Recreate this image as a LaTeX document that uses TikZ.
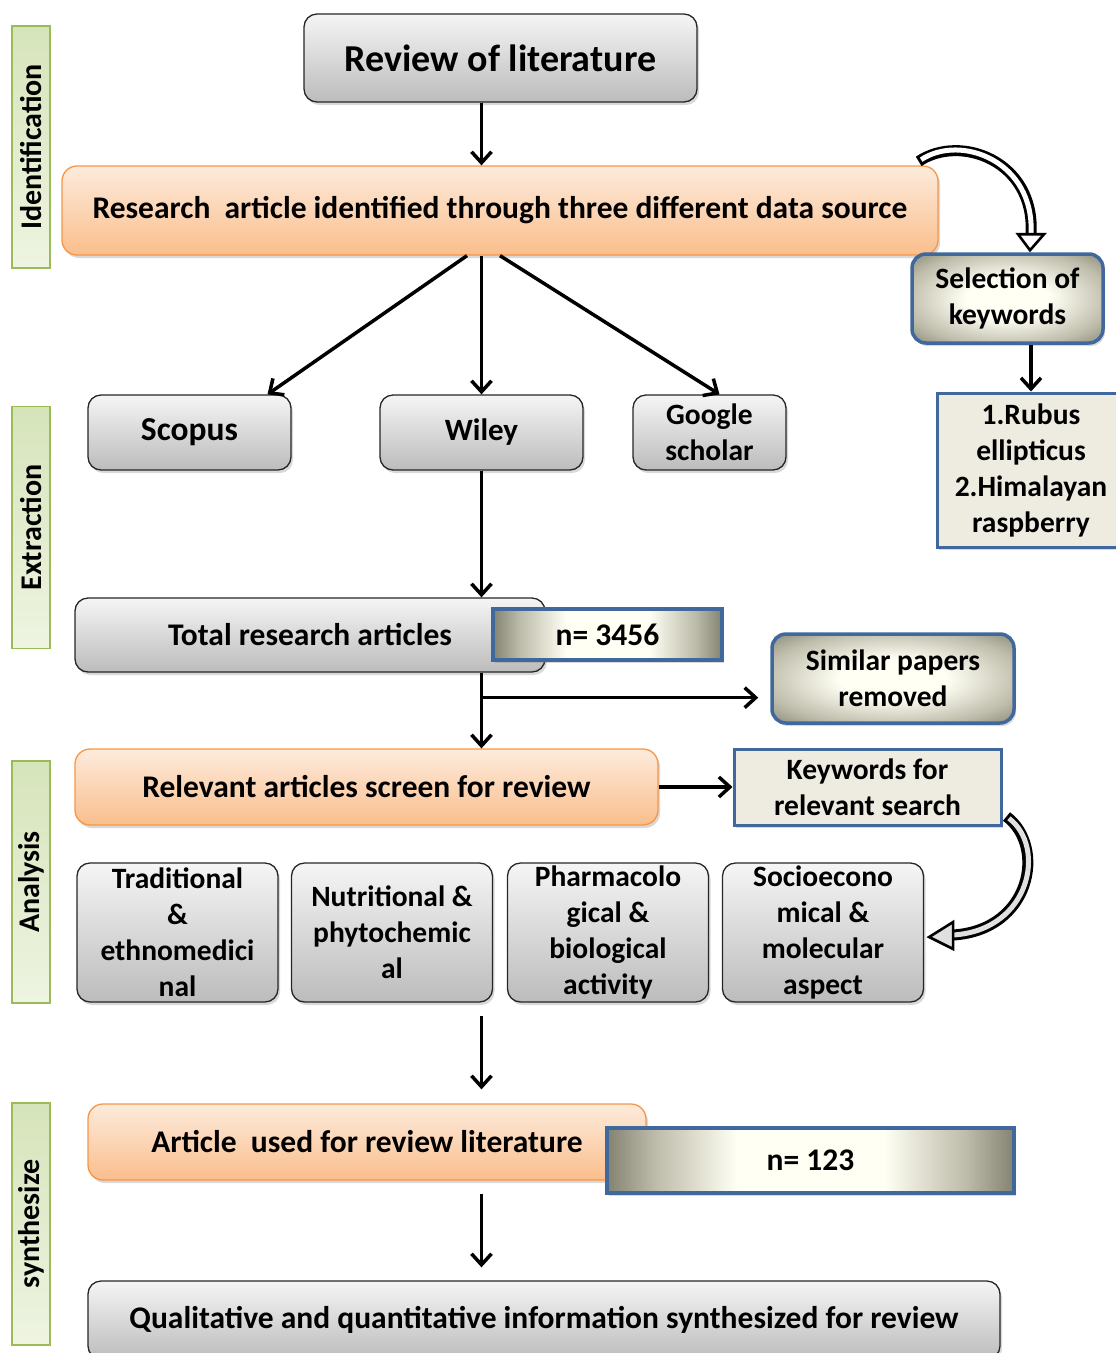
\documentclass[tikz,border=0pt]{standalone}
\usepackage{fontspec}
\setmainfont{Carlito}
\usetikzlibrary{arrows.meta,shadows,calc}
\definecolor{grayT}{RGB}{245,245,245}
\definecolor{grayB}{RGB}{188,188,188}
\definecolor{orT}{RGB}{253,235,220}
\definecolor{orB}{RGB}{250,190,140}
\definecolor{orD}{RGB}{247,150,70}
\definecolor{blueD}{RGB}{65,104,156}
\definecolor{olv}{RGB}{132,130,112}
\definecolor{olvM}{RGB}{190,188,170}
\definecolor{crm}{RGB}{255,255,244}
\definecolor{beige}{RGB}{238,236,225}
\definecolor{grnD}{RGB}{155,187,89}
\definecolor{grnL}{RGB}{238,244,225}
\definecolor{grnM}{RGB}{214,228,186}
\pgfdeclareradialshading{myrad}{\pgfpoint{0bp}{0bp}}{color(0bp)=(crm); color(11bp)=(crm); color(27bp)=(olvM); color(37bp)=(olv); color(50bp)=(olv)}
\pgfdeclarehorizontalshading{myhor}{100bp}{color(0bp)=(olv); color(25bp)=(olv); color(31bp)=(olvM); color(41bp)=(crm); color(59bp)=(crm); color(69bp)=(olvM); color(75bp)=(olv); color(100bp)=(olv)}
\begin{document}
\begin{tikzpicture}[x=1pt,y=-1pt,
  every node/.style={font=\fontsize{29.5}{36}\selectfont\bfseries, align=center, inner sep=0pt},
  big/.style={font=\fontsize{31.5}{36}\selectfont\bfseries},
  shad/.style={drop shadow={shadow xshift=2pt,shadow yshift=-3pt,opacity=0.3}},
  graybox/.style={shad, draw=black!85, line width=1.3pt, rounded corners=13pt, top color=grayT, bottom color=grayB},
  orbox/.style={shad, draw=orD, line width=1.3pt, rounded corners=15pt, top color=orT, bottom color=orB},
  radbox/.style={shad, draw=blueD, line width=3.5pt, rounded corners=14pt, shading=myrad},
  nbox/.style={shad, draw=blueD, line width=3.5pt, shading=myhor},
  beigebox/.style={shad, draw=blueD, line width=3pt, fill=beige},
  side/.style={draw=grnD, line width=1.5pt, top color=grnM, bottom color=grnL, rotate=90, minimum width=242, minimum height=38, font=\fontsize{30}{36}\selectfont\bfseries},
  arr/.style={line width=3.5pt, -{Straight Barb[length=11pt,width=20pt]}},
  curveout/.style={line width=11pt, black},
  curvein/.style={line width=5pt},
  headst/.style={draw=black, line width=2.6pt, line join=miter}
]
\useasboundingbox (0,0) rectangle (1116,1353);

% side labels
\node[side] (sid1) at (31,147) {Identification};
\node[side] (sid2) at (31,527.5) {Extraction};
\node[side] (sid3) at (31,882) {Analysis};
\node[side] (sid4) at (31,1224) {synthesize};

% main boxes
\node[graybox, minimum width=393, minimum height=88, font=\fontsize{38}{40}\selectfont\bfseries] (rev) at (500.5,58) {Review of literature};
\node[orbox, big, minimum width=876, minimum height=89] (res) at (500,210.5) {Research\ \ article identified through three different data source};
\node[radbox, minimum width=191, minimum height=89] (sel) at (1007.5,298.5) {Selection of\\keywords};
\node[beigebox, minimum width=188, minimum height=154] (rub) at (1031,470) {1.Rubus\\ellipticus\\2.Himalayan\\raspberry};

\node[graybox, minimum width=203, minimum height=75, font=\fontsize{33.5}{36}\selectfont\bfseries] (scop) at (189.5,432.5) {Scopus};
\node[graybox, minimum width=203, minimum height=75, font=\fontsize{31}{36}\selectfont\bfseries] (wil) at (481.5,432.5) {Wiley};
\node[graybox, minimum width=153, minimum height=75] (goo) at (709.5,432.5) {Google\\scholar};

\node[graybox, minimum width=470, minimum height=74] (tot) at (310,635) {\hspace*{0pt}};
\node[big] (tottxt) at (310,635) {Total research articles};
\node[nbox, big, minimum width=229, minimum height=51] (n1) at (607.5,634.5) {n= 3456};
\node[radbox, minimum width=242, minimum height=89] (sim) at (893,678.5) {Similar papers\\removed};

\node[orbox, big, minimum width=583, minimum height=76] (rel) at (366.5,787) {Relevant articles screen for review};
\node[beigebox, minimum width=267, minimum height=76] (kw) at (867.5,787) {Keywords for\\relevant search};

\node[graybox, minimum width=201, minimum height=139] (trad) at (177.5,932.5) {Traditional\\\&\\ethnomedici\\nal};
\node[graybox, minimum width=201, minimum height=139] (nutr) at (392,932.5) {Nutritional \&\\phytochemic\\al};
\node[graybox, minimum width=201, minimum height=139] (pharm) at (608,932.5) {Pharmacolo\\gical \&\\biological\\activity};
\node[graybox, minimum width=201, minimum height=139] (soc) at (823,932.5) {Socioecono\\mical \&\\molecular\\aspect};

\node[orbox, big, minimum width=558, minimum height=76] (art) at (367,1142) {Article\ \ used for review literature};
\node[nbox, big, minimum width=407, minimum height=65] (n2) at (810.5,1160.5) {n= 123};

\node[graybox, big, minimum width=912, minimum height=78] (qual) at (544,1320) {Qualitative and quantitative information synthesized for review};

% straight connectors
\draw[arr] (rev.south -| wil) -- (res.north -| wil);
\draw[arr] ([xshift=-33pt]res.south) -- ([xshift=78pt]scop.north);
\draw[arr] (res.south -| wil) -- (wil.north);
\draw[arr] (res.south) -- ([xshift=10pt]goo.north);
\draw[arr] (wil.south) -- (tot.north -| wil);
\draw[arr] (tot.south -| wil) -- (rel.north -| wil);
\coordinate (br) at ($(tot.south -| wil)+(0,-25pt)$);
\coordinate (simin) at ([xshift=-12pt]sim.west);
\draw[arr] (br) -- (br -| simin);
\draw[arr] (rel.east) -- (kw.west);
\draw[arr] ([yshift=-13pt]nutr.south -| wil) -- ([yshift=14pt]art.north -| wil);
\draw[arr] ([yshift=-13pt]art.south -| wil) -- ([yshift=13pt]qual.north -| wil);
\draw[arr] (sel.south -| rub) -- (rub.north);

% curved block arrow 1: research -> selection of keywords
\coordinate (c1s) at ($(res.north east)+(-20pt,4pt)$);
\coordinate (c1e) at ($(sel.north)+(23.5pt,18pt)$);
\draw[curveout, shorten >=1pt] (c1s) .. controls ($(c1s)+(42pt,28pt)$) and ($(c1e)+(4pt,73pt)$) .. (c1e);
\draw[curvein, white, shorten <=3pt] (c1s) .. controls ($(c1s)+(42pt,28pt)$) and ($(c1e)+(4pt,73pt)$) .. (c1e);
\filldraw[headst, fill=white] ($(c1e)+(-13pt,0pt)$) -- ($(c1e)+(13pt,0pt)$) -- ($(sel.north)+(22.5pt,2pt)$) -- cycle;

% curved block arrow 2: keywords -> socioeconomical
\coordinate (c2s) at ($(kw.south east)+(4pt,10pt)$);
\coordinate (c2e) at ($(soc.east)+(29pt,-2.5pt)$);
\draw[curveout] (c2s) .. controls ($(c2s)+(40pt,-30pt)$) and ($(c2e)+(78pt,5pt)$) .. (c2e);
\draw[curvein, black!12, shorten <=3pt] (c2s) .. controls ($(c2s)+(40pt,-30pt)$) and ($(c2e)+(78pt,5pt)$) .. (c2e);
\filldraw[headst, fill=black!12] ($(c2e)+(0pt,13pt)$) -- ($(c2e)+(0pt,-14pt)$) -- ($(soc.east)+(5pt,-4.5pt)$) -- cycle;
\end{tikzpicture}
\end{document}
